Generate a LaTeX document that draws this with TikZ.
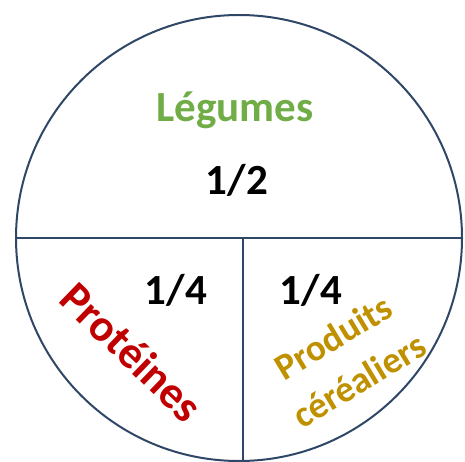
\documentclass[tikz,border=0pt]{standalone}
\usepackage{fontspec}
\setmainfont{Carlito}
\definecolor{rim}{HTML}{2F4766}
\definecolor{veg}{HTML}{70AD47}
\definecolor{prot}{HTML}{C00000}
\definecolor{grain}{HTML}{BF9000}
\begin{document}
\begin{tikzpicture}[x=1pt,y=-1pt,
  plateline/.style={draw=rim,line width=2.6pt},
  biglabel/.style={font=\bfseries\fontsize{43}{50}\selectfont,inner sep=0pt},
  fraction/.style={font=\bfseries\fontsize{43}{50}\selectfont,inner sep=0pt,anchor=base},
  grouplabel/.style={font=\bfseries\fontsize{37}{44}\selectfont,inner sep=0pt,text=grain}]
  \useasboundingbox (0,0) rectangle (465,462);
  % the plate
  \node[circle,draw=rim,line width=2pt,minimum size=446pt,inner sep=0pt] (plate) at (239,238) {};
  \draw[plateline] (plate.west) -- (plate.east);
  \draw[plateline] ([xshift=4pt]plate.center) -- ([xshift=4pt]plate.south);
  % labels
  \node[biglabel,text=veg,anchor=base] (leg) at (235,122) {Légumes};
  \node[fraction] (half) at (237,195) {1/2};
  \node[fraction] (qleft) at (176,304) {1/4};
  \node[fraction] (qright) at (311,304) {1/4};
  \node[biglabel,font=\bfseries\fontsize{45}{50}\selectfont,text=prot,rotate=-44] (pro) at (132,352) {Protéines};
  \node[grouplabel,rotate=31] (prod) at (333,337) {Produits};
  \node[grouplabel,rotate=31] (cer) at (359,380) {céréaliers};
\end{tikzpicture}
\end{document}
